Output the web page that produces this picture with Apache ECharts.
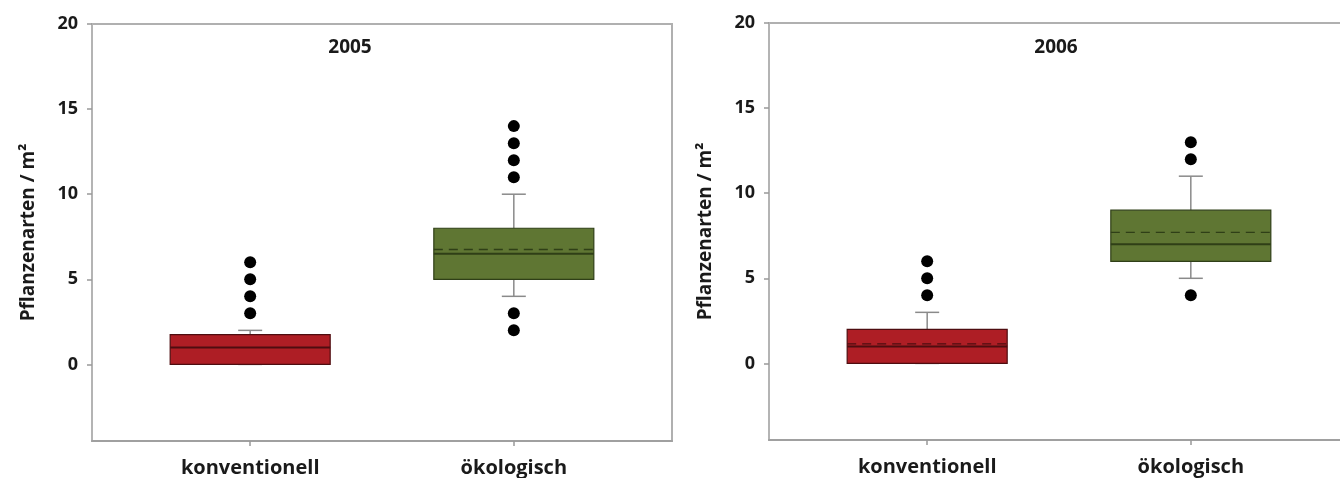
<!DOCTYPE html>
<html>
<head>
<meta charset="utf-8">
<title>Pflanzenarten / m² – 2005 und 2006</title>
<script src="https://cdn.jsdelivr.net/npm/echarts@6/dist/echarts.min.js"></script>
<style>
  html, body { margin: 0; padding: 0; background: #fff; }
  #chart { width: 1340px; height: 478px; }
</style>
</head>
<body>
<div id="chart"></div>
<script>
// Anbausysteme und Jahre
const categories = ['konventionell', 'ökologisch'];
const years = ['2005', '2006'];
const yTicks = [0, 5, 10, 15, 20];

// Boxplot-Kennwerte je Anbausystem: [Minimum, Q1, Median, Q3, Maximum]
const box2005 = [[0, 0, 1, 1.75, 2], [4, 5, 6.5, 8, 10]];
const box2006 = [[0, 0, 1, 2, 3], [5, 6, 7, 9, 11]];

// Mittelwerte (gestrichelte Linie); null = fällt mit dem Median zusammen
const mean2005 = [null, 6.75];
const mean2006 = [1.15, 7.7];

// Ausreißer je Anbausystem
const outliers2005 = [[3, 4, 5, 6], [2, 3, 11, 12, 13, 14]];
const outliers2006 = [[4, 5, 6], [4, 12, 13]];

const FILL = ['#ae1e25', '#5f7633'];
const EDGE = ['#4e0d10', '#2f3f17'];
const WHISKER = '#8a8a8a';
const BOX_HALF = 80;
const CAP_HALF = 12;
const FONT = '"Open Sans", "Noto Sans", sans-serif';

// Zeilen für die Custom-Serie: [Position, min, q1, median, q3, max, mittel]
function boxRows(boxes, means) {
  return boxes.map((b, i) => [i + 1, ...b, means[i] == null ? NaN : means[i]]);
}
function outlierRows(list) {
  const rows = [];
  list.forEach((vals, i) => vals.forEach(v => rows.push([i + 1, v])));
  return rows;
}

function renderBox(params, api) {
  const x = api.value(0);
  const px = v => api.coord([x, v]);
  const xc = px(api.value(3))[0];
  const yMin = px(api.value(1))[1];
  const yQ1 = px(api.value(2))[1];
  const yMed = px(api.value(3))[1];
  const yQ3 = px(api.value(4))[1];
  const yMax = px(api.value(5))[1];
  const mean = api.value(6);
  const i = params.dataIndex;
  const line = (x1, y1, x2, y2, style) => ({
    type: 'line', shape: { x1, y1, x2, y2 }, style
  });
  const wStyle = { stroke: WHISKER, lineWidth: 1.5 };
  const children = [
    line(xc, yQ3, xc, yMax, wStyle),
    line(xc, yQ1, xc, yMin, wStyle),
    line(xc - CAP_HALF, yMax, xc + CAP_HALF, yMax, wStyle),
    line(xc - CAP_HALF, yMin, xc + CAP_HALF, yMin, wStyle),
    {
      type: 'rect',
      shape: { x: xc - BOX_HALF, y: yQ3, width: BOX_HALF * 2, height: yQ1 - yQ3 },
      style: { fill: FILL[i], stroke: EDGE[i], lineWidth: 1.2 }
    },
    line(xc - BOX_HALF, yMed, xc + BOX_HALF, yMed, { stroke: EDGE[i], lineWidth: 2 })
  ];
  if (!isNaN(mean)) {
    const yMean = px(mean)[1];
    children.push(line(xc - BOX_HALF, yMean, xc + BOX_HALF, yMean,
      { stroke: EDGE[i], lineWidth: 1.3, lineDash: [9, 6] }));
  }
  return { type: 'group', children };
}

const grids = [
  { left: 92, top: 24, width: 580, height: 417 },
  { left: 769, top: 23, width: 580, height: 417 }
];

const option = {
  animation: false,
  backgroundColor: '#ffffff',
  title: years.map((y, k) => ({
    text: y,
    left: k === 0 ? 345 : 1051,
    top: 33,
    textAlign: 'center',
    textStyle: { fontFamily: FONT, fontWeight: 'bold', fontSize: 19, color: '#1a1a1a' }
  })),
  grid: grids.map(g => Object.assign({
    show: true, borderColor: '#b0b0b0', borderWidth: 2, backgroundColor: 'transparent',
    containLabel: false, outerBoundsMode: 'none'
  }, g)),
  xAxis: [0, 1].map(k => ({
    type: 'value',
    gridIndex: k,
    min: 0.4,
    max: 2.6,
    splitLine: { show: false },
    axisLine: { show: true, onZero: false, lineStyle: { color: '#a0a0a0', width: 2 } },
    axisTick: { show: true, customValues: [1, 2], length: 5, lineStyle: { color: '#999', width: 1.5 } },
    axisLabel: {
      customValues: [1, 2],
      formatter: v => categories[Math.round(v) - 1] || '',
      margin: 17,
      fontFamily: FONT, fontWeight: 'bold', fontSize: 20, color: '#1a1a1a'
    }
  })),
  yAxis: [0, 1].map(k => ({
    type: 'value',
    gridIndex: k,
    min: -4.5,
    max: 20,
    name: 'Pflanzenarten / m²',
    nameLocation: 'middle',
    nameGap: 54,
    nameTextStyle: { fontFamily: FONT, fontWeight: 'bold', fontSize: 19, color: '#1a1a1a' },
    splitLine: { show: false },
    axisLine: { show: true, lineStyle: { color: '#b4b4b4', width: 2 } },
    axisTick: { show: true, customValues: yTicks, length: 5, lineStyle: { color: '#999', width: 1.5 } },
    axisLabel: {
      customValues: yTicks,
      margin: 14,
      fontFamily: FONT, fontWeight: 'bold', fontSize: 18, color: '#1a1a1a'
    }
  })),
  series: [
    { type: 'custom', xAxisIndex: 0, yAxisIndex: 0, renderItem: renderBox,
      data: boxRows(box2005, mean2005), encode: { x: 0, y: [1, 2, 3, 4, 5] } },
    { type: 'custom', xAxisIndex: 1, yAxisIndex: 1, renderItem: renderBox,
      data: boxRows(box2006, mean2006), encode: { x: 0, y: [1, 2, 3, 4, 5] } },
    { type: 'scatter', xAxisIndex: 0, yAxisIndex: 0, symbolSize: 12,
      itemStyle: { color: '#000', opacity: 1 }, data: outlierRows(outliers2005) },
    { type: 'scatter', xAxisIndex: 1, yAxisIndex: 1, symbolSize: 12,
      itemStyle: { color: '#000', opacity: 1 }, data: outlierRows(outliers2006) }
  ]
};

const chart = echarts.init(document.getElementById('chart'), null, { renderer: 'canvas' });
chart.setOption(option);
</script>
</body>
</html>
